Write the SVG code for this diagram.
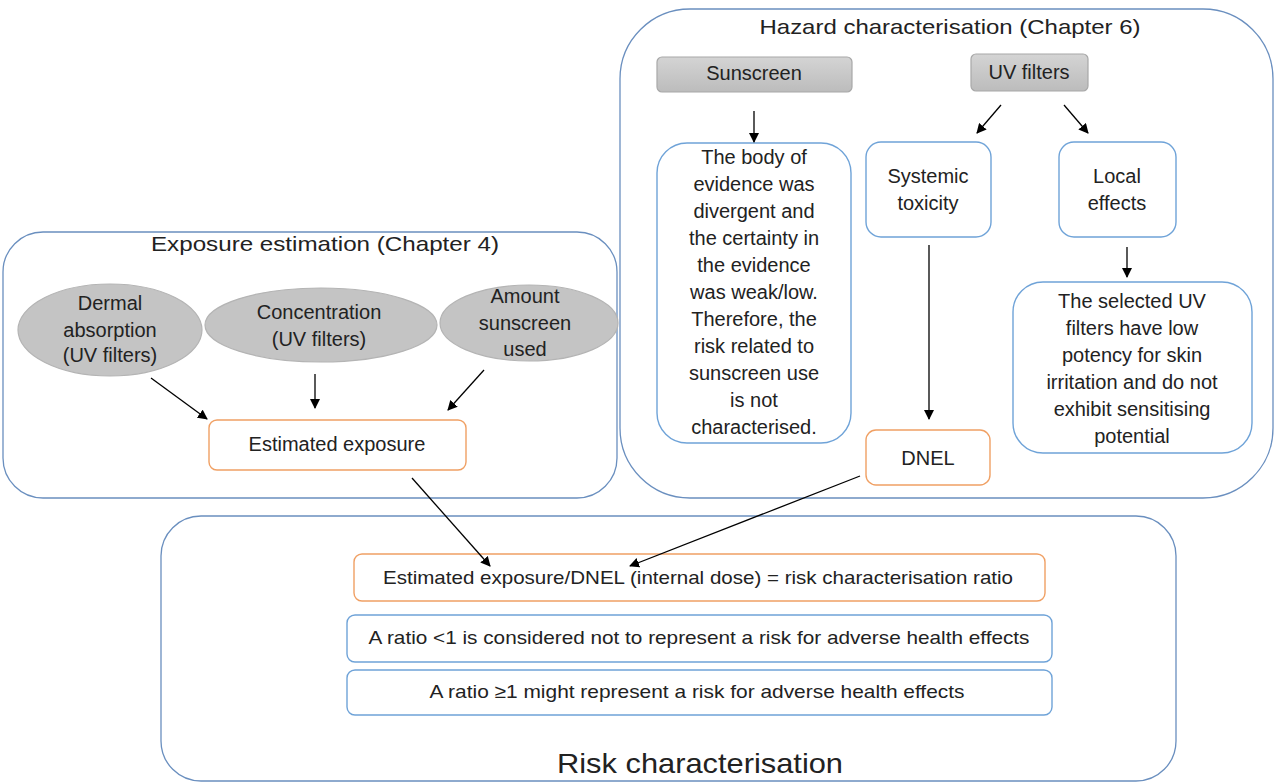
<svg xmlns="http://www.w3.org/2000/svg" width="1276" height="783" viewBox="0 0 1276 783">
<style>
text{font-family:"Liberation Sans",Arial,sans-serif;fill:#222;text-anchor:middle}
.body{font-size:20px}
.title{font-size:21px}
.cont{fill:#fff;stroke:#6a8fbf;stroke-width:1.3}
.blue{fill:#fff;stroke:#6fa3d8;stroke-width:1.4}
.orange{fill:#fff;stroke:#f0a064;stroke-width:1.4}
.ell{fill:#c4c4c4;stroke:#b4b4b4;stroke-width:1.2}
.gray{fill:url(#g);stroke:#a8a8a8;stroke-width:1.2}
.con line{stroke:#000;stroke-width:1.3;marker-end:url(#ah)}
</style>
<defs>
<linearGradient id="g" x1="0" y1="0" x2="0" y2="1"><stop offset="0" stop-color="#d4d4d4"/><stop offset="1" stop-color="#bcbcbc"/></linearGradient>
<marker id="ah" viewBox="0 0 10 10" refX="9" refY="5" markerWidth="10" markerHeight="10" markerUnits="userSpaceOnUse" orient="auto"><path d="M0,0 L10,5 L0,10 z" fill="#000"/></marker>
</defs>
<rect width="1276" height="783" fill="#fff"/>

<g id="exposure-container">
<rect class="cont" x="3" y="232" width="614" height="266" rx="40"/>
<text class="title" x="325" y="251" textLength="348" lengthAdjust="spacingAndGlyphs">Exposure estimation (Chapter 4)</text>
</g>
<g id="hazard-container">
<rect class="cont" x="620" y="9" width="653" height="489" rx="70"/>
<text class="title" x="950" y="34" textLength="381" lengthAdjust="spacingAndGlyphs">Hazard characterisation (Chapter 6)</text>
</g>
<g id="risk-container">
<rect class="cont" x="161" y="516" width="1015" height="265" rx="40"/>
<text x="700" y="773" font-size="28" textLength="286" lengthAdjust="spacingAndGlyphs">Risk characterisation</text>
</g>

<g id="dermal">
<ellipse class="ell" cx="110" cy="330" rx="92" ry="46"/>
<text class="body" x="110" y="310">Dermal</text>
<text class="body" x="110" y="337">absorption</text>
<text class="body" x="110" y="362">(UV filters)</text>
</g>
<g id="concentration">
<ellipse class="ell" cx="321" cy="325" rx="116" ry="37"/>
<text class="body" x="319" y="319">Concentration</text>
<text class="body" x="319" y="346">(UV filters)</text>
</g>
<g id="amount">
<ellipse class="ell" cx="529" cy="323" rx="89" ry="38"/>
<text class="body" x="525" y="303">Amount</text>
<text class="body" x="525" y="330">sunscreen</text>
<text class="body" x="525" y="356">used</text>
</g>
<g id="estimated-exposure">
<rect class="orange" x="209" y="420" width="257" height="50" rx="8"/>
<text class="body" x="337" y="451" font-size="19">Estimated exposure</text>
</g>

<g id="sunscreen">
<rect class="gray" x="657" y="57" width="195" height="35" rx="5"/>
<text class="body" x="754" y="80" font-size="19">Sunscreen</text>
</g>
<g id="uv-filters">
<rect class="gray" x="971" y="54" width="117" height="37" rx="5"/>
<text class="body" x="1029" y="79" font-size="19">UV filters</text>
</g>
<g id="body-evidence">
<rect class="blue" x="657" y="143" width="194" height="300" rx="30"/>
<text class="body" x="754" y="164">The body of</text>
<text class="body" x="754" y="191">evidence was</text>
<text class="body" x="754" y="218">divergent and</text>
<text class="body" x="754" y="245">the certainty in</text>
<text class="body" x="754" y="272">the evidence</text>
<text class="body" x="754" y="299">was weak/low.</text>
<text class="body" x="754" y="326">Therefore, the</text>
<text class="body" x="754" y="353">risk related to</text>
<text class="body" x="754" y="380">sunscreen use</text>
<text class="body" x="754" y="407">is not</text>
<text class="body" x="754" y="434">characterised.</text>
</g>
<g id="systemic">
<rect class="blue" x="866" y="142" width="125" height="95" rx="15"/>
<text class="body" x="928" y="183">Systemic</text>
<text class="body" x="928" y="210">toxicity</text>
</g>
<g id="local">
<rect class="blue" x="1059" y="142" width="117" height="95" rx="15"/>
<text class="body" x="1117" y="183">Local</text>
<text class="body" x="1117" y="210">effects</text>
</g>
<g id="dnel">
<rect class="orange" x="866" y="430" width="124" height="55" rx="10"/>
<text class="body" x="928" y="465" font-size="19">DNEL</text>
</g>
<g id="selected-uv">
<rect class="blue" x="1013" y="282" width="239" height="171" rx="30"/>
<text class="body" x="1132" y="308">The selected UV</text>
<text class="body" x="1132" y="335">filters have low</text>
<text class="body" x="1132" y="362">potency for skin</text>
<text class="body" x="1132" y="389">irritation and do not</text>
<text class="body" x="1132" y="416">exhibit sensitising</text>
<text class="body" x="1132" y="443">potential</text>
</g>

<g id="ratio">
<rect class="orange" x="354" y="554" width="691" height="47" rx="8"/>
<text x="698" y="584" font-size="19" textLength="630" lengthAdjust="spacingAndGlyphs">Estimated exposure/DNEL (internal dose) = risk characterisation ratio</text>
</g>
<g id="ratio-lt1">
<rect class="blue" x="347" y="615" width="705" height="47" rx="8"/>
<text x="699" y="644" font-size="19" textLength="661" lengthAdjust="spacingAndGlyphs">A ratio &lt;1 is considered not to represent a risk for adverse health effects</text>
</g>
<g id="ratio-ge1">
<rect class="blue" x="347" y="670" width="705" height="45" rx="8"/>
<text x="697" y="698" font-size="19" textLength="535" lengthAdjust="spacingAndGlyphs">A ratio ≥1 might represent a risk for adverse health effects</text>
</g>

<g id="connectors" class="con">
<line x1="151" y1="378" x2="207" y2="419"/>
<line x1="315" y1="374" x2="315" y2="408"/>
<line x1="484" y1="370" x2="448" y2="410"/>
<line x1="412" y1="478" x2="490" y2="566"/>
<line x1="860" y1="476" x2="630" y2="566"/>
<line x1="754" y1="111" x2="754" y2="142"/>
<line x1="1001" y1="105" x2="977" y2="133"/>
<line x1="1064" y1="105" x2="1088" y2="133"/>
<line x1="929" y1="245" x2="929" y2="419"/>
<line x1="1127" y1="247" x2="1127" y2="277"/>
</g>
</svg>
